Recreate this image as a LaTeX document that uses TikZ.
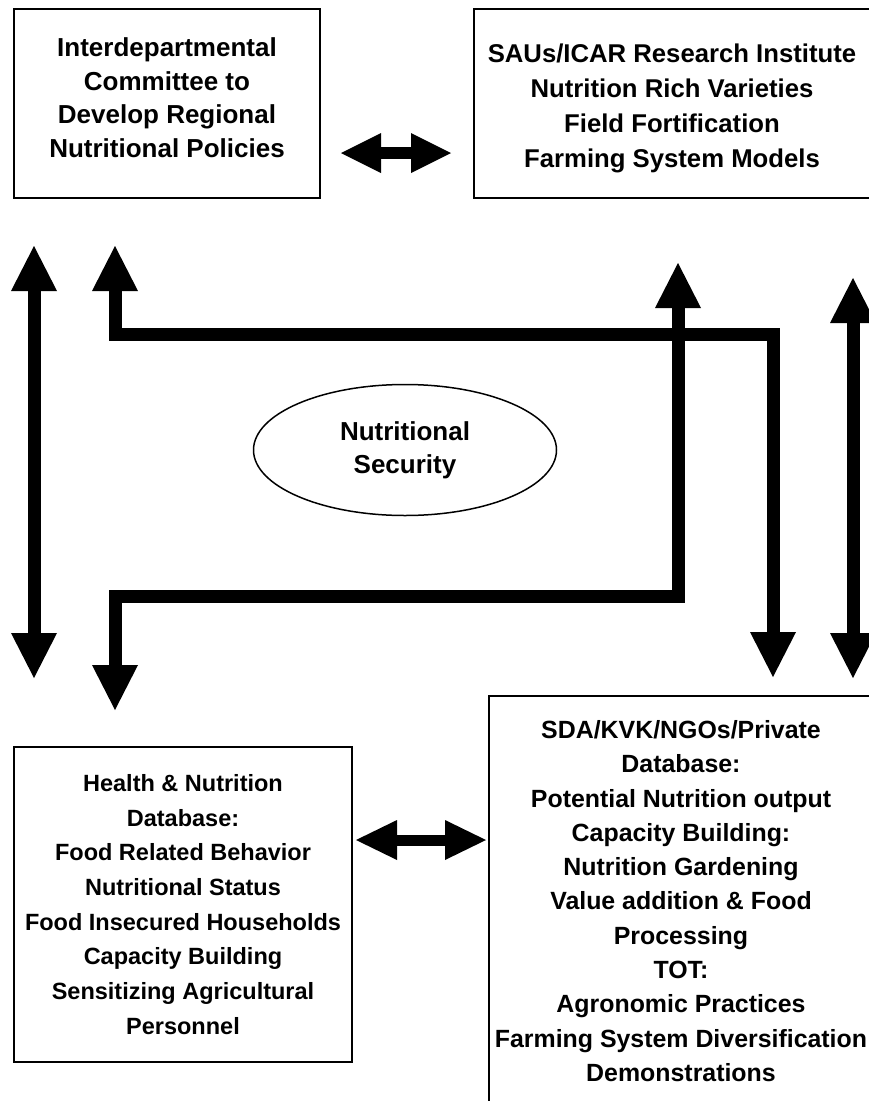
\documentclass[tikz,border=0pt]{standalone}
\usepackage{fontspec}
\setmainfont{Liberation Sans}
\usetikzlibrary{arrows.meta,shapes.geometric}
\begin{document}
\begin{tikzpicture}[x=1pt,y=-1pt,
  box/.style={draw, line width=2pt, align=center, inner sep=0pt},
  bigarrow/.style={line width=13pt,
    arrows={Triangle[length=45pt,width=46pt,line width=0pt]-Triangle[length=45pt,width=46pt,line width=0pt]}},
  toparrow/.style={line width=12pt,
    arrows={Triangle[length=40pt,width=40pt,line width=0pt]-Triangle[length=40pt,width=40pt,line width=0pt]}},
  botarrow/.style={line width=11pt,
    arrows={Triangle[length=41pt,width=40pt,line width=0pt]-Triangle[length=41pt,width=40pt,line width=0pt]}}]
\useasboundingbox (0,0) rectangle (869,1101);
\fill[white] (0,0) rectangle (869,1101);
\clip (0,0) rectangle (869,1101);

% boxes
\node[box, minimum width=306pt, minimum height=189pt,
      font=\fontsize{26}{33.7}\selectfont\bfseries] (tl) at (167,103.5)
  {Interdepartmental\\Committee to\\Develop Regional\\Nutritional Policies\rule[-12pt]{0pt}{12pt}};
\node[box, minimum width=396pt, minimum height=189pt,
      font=\fontsize{25.7}{35}\selectfont\bfseries] (tr) at (672,103.5)
  {\rule{0pt}{28pt}SAUs/ICAR Research Institute\\Nutrition Rich Varieties\\Field Fortification\\Farming System Models};
\node[ellipse, draw, line width=1.5pt, minimum width=303pt, minimum height=131pt,
      inner sep=0pt, align=center, font=\fontsize{26}{33}\selectfont\bfseries] (ns) at (405,450)
  {Nutritional\\Security};
\node[box, minimum width=338pt, minimum height=315pt,
      font=\fontsize{23.5}{34.7}\selectfont\bfseries] (bl) at (183,904.5)
  {Health \& Nutrition\\Database:\\Food Related Behavior\\Nutritional Status\\Food Insecured Households\\Capacity Building\\Sensitizing Agricultural\\Personnel};
\node[box, minimum width=384pt, minimum height=410pt,
      font=\fontsize{24.9}{34.3}\selectfont\bfseries] (br) at (681,901)
  {SDA/KVK/NGOs/Private\\Database:\\Potential Nutrition output\\Capacity Building:\\Nutrition Gardening\\Value addition \& Food\\Processing\\TOT:\\Agronomic Practices\\Farming System Diversification\\Demonstrations};

% connector end points
\coordinate (lvT) at (34,246);
\coordinate (lvB) at (34,678);
\coordinate (aT) at (115,246);
\coordinate (aC1) at (115,334.5);
\coordinate (aC2) at (773,334.5);
\coordinate (aB) at (773,677);
\coordinate (bT) at (678,263);
\coordinate (bC1) at (678,596.5);
\coordinate (bC2) at (115,596.5);
\coordinate (bB) at (115,710);
\coordinate (rvT) at (853,278);
\coordinate (rvB) at (853,678);
\coordinate (tA) at (341,153);
\coordinate (tB) at (451,153);
\coordinate (uA) at (356,840);
\coordinate (uB) at (486,840);

% connectors
\draw[bigarrow] (lvT) -- (lvB);
\draw[bigarrow] (aT) -- (aC1) -- (aC2) -- (aB);
\draw[bigarrow] (bT) -- (bC1) -- (bC2) -- (bB);
\draw[bigarrow] (rvT) -- (rvB);
\draw[toparrow] (tA) -- (tB);
\draw[botarrow] (uA) -- (uB);
\end{tikzpicture}
\end{document}
